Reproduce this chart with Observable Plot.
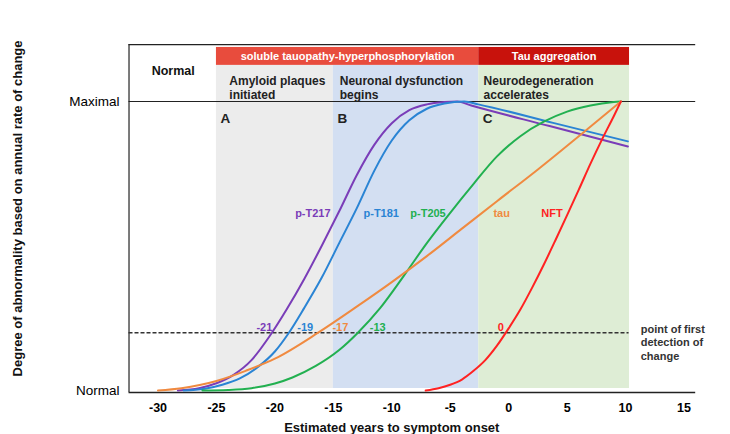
<!DOCTYPE html>
<html>
<head>
<meta charset="utf-8">
<script src="https://cdn.jsdelivr.net/npm/d3@7"></script>
<script src="https://cdn.jsdelivr.net/npm/@observablehq/plot@0.6"></script>
<style>
  html, body { margin: 0; padding: 0; background: #fff; }
  #chart svg { display: block; }
</style>
</head>
<body>
<div id="chart"></div>
<script>
// ---- data ----
const xTicks = [-30, -25, -20, -15, -10, -5, 0, 5, 10, 15];
const yTickLabels = ["Normal", "Maximal"];

const seriesNames = ["p-T217", "p-T181", "p-T205", "tau", "NFT"];
const seriesColors = ["#7a3db8", "#2a84d4", "#22b050", "#f08a40", "#ff2222"];

const pT217 = [[-28.3,0],[-26.5,0.008],[-25,0.025],[-23.5,0.055],[-22,0.105],[-20.5,0.185],[-19,0.28],[-17.5,0.385],[-16,0.5],[-14.5,0.62],[-13,0.745],[-11.5,0.85],[-10,0.925],[-8.5,0.97],[-7,0.99],[-5.5,0.998],[-4.4,1.0],[-3.2,0.986],[3.5,0.915],[10.2,0.844]];
const pT181 = [[-27.8,0],[-26,0.006],[-24.5,0.02],[-23,0.042],[-21.5,0.08],[-20,0.135],[-18.8,0.2],[-17.5,0.285],[-16,0.39],[-14.5,0.51],[-13,0.63],[-11.5,0.76],[-10,0.865],[-8.5,0.935],[-7,0.975],[-5.5,0.993],[-3.8,1.0],[-2.6,0.99],[3.8,0.926],[10.2,0.862]];
const pT205 = [[-26.2,0],[-24,0.002],[-22,0.008],[-20,0.024],[-18.5,0.045],[-16.5,0.085],[-14.5,0.14],[-12.9,0.2],[-11,0.285],[-9,0.395],[-7,0.51],[-5,0.615],[-3,0.715],[-1,0.81],[1,0.88],[3,0.93],[5,0.965],[7,0.986],[9,0.998],[9.6,1.0]];
const tau   = [[-30,0],[-28,0.008],[-25,0.033],[-22.5,0.068],[-20,0.11],[-16.3,0.2],[-13,0.29],[-10,0.375],[-7,0.465],[-4,0.56],[-1,0.655],[2.5,0.765],[6,0.88],[9.6,1.0]];
const nft   = [[-7.1,0],[-6,0.008],[-5,0.02],[-4,0.038],[-3,0.068],[-2,0.105],[-1,0.155],[0,0.215],[1,0.28],[2,0.355],[3,0.435],[4,0.52],[5,0.607],[6,0.695],[7,0.785],[8,0.87],[9,0.95],[9.6,1.0]];

const detectionYears = ["-21", "-19", "-17", "-13", "0"];
const detectionLevel = 0.2;

const phaseNames = ["Amyloid plaques\ninitiated", "Neuronal dysfunction\nbegins", "Neurodegeneration\naccelerates"];
const phaseLetters = ["A", "B", "C"];
const phaseStart = [-25, -15, -2.56];
const phaseEnd   = [-15, -2.56, 10.34];
const tauStages = ["soluble tauopathy-hyperphosphorylation", "Tau aggregation"];
const tauStageStart = [-25, -2.56];
const tauStageEnd = [-2.56, 10.34];

// ---- layout helpers (data units) ----
const font = "Liberation Sans, Arial, Helvetica, sans-serif";
const xLeft = -32.48, xRight = 16.0;
const yTop = 1.197, yBandTop = 1.125, yRedTop = 1.187, yBase = -0.007;

const series = [pT217, pT181, pT205, tau, nft];
const lineData = series.flatMap((s, i) => s.map(([x, y]) => ({x, y, name: seriesNames[i]})));

const phaseFills = ["#ececec", "#d3dff2", "#deedd5"];
const tauFills = ["#e84c3d", "#c8120c"];
const phaseTextX = [-23.9, -14.45, -2.15];
const phases = phaseNames.map((n, i) => ({name: n, letter: phaseLetters[i], x1: phaseStart[i], x2: phaseEnd[i], tx: phaseTextX[i], fill: phaseFills[i]}));
const stages = tauStages.map((n, i) => ({name: n, x1: tauStageStart[i], x2: tauStageEnd[i], fill: tauFills[i]}));

const curveLabelX = [-16.75, -10.9, -6.9, -0.6, 3.7];
const curveLabels = seriesNames.map((n, i) => ({name: n, x: curveLabelX[i], color: seriesColors[i]}));
const detLabelX = [-20.9, -17.4, -14.4, -11.2, -0.68];
const detLabels = detectionYears.map((t, i) => ({t, x: detLabelX[i], color: seriesColors[[0,1,3,2,4][i]]}));

const chart = Plot.plot({
  width: 730,
  height: 434,
  marginLeft: 128,
  marginRight: 35,
  marginTop: 44,
  marginBottom: 42,
  x: {domain: [-30, 15], range: [157.5, 683.5]},
  y: {domain: [0, 1], range: [390, 101]},
  color: {domain: seriesNames, range: seriesColors},
  style: {fontFamily: font, background: "#fff", overflow: "visible"},
  marks: [
    // phase background bands
    Plot.rect(phases, {x1: "x1", x2: "x2", y1: 0.007, y2: yBandTop, fill: "fill"}),
    // tau stage header bands
    Plot.rect(stages, {x1: "x1", x2: "x2", y1: yBandTop, y2: yRedTop, fill: "fill"}),
    Plot.text(stages, {x: d => (d.x1 + d.x2) / 2, y: (yBandTop + yRedTop) / 2, text: "name", fill: "#fff", fontSize: 11, fontWeight: "bold"}),
    // frame lines
    Plot.ruleY([yTop], {x1: xLeft, x2: xRight, stroke: "#222", strokeWidth: 1.2}),
    Plot.ruleY([1], {x1: xLeft, x2: xRight, stroke: "#222", strokeWidth: 1.2}),
    Plot.ruleY([yBase], {x1: xLeft, x2: xRight, stroke: "#222", strokeWidth: 1.6}),
    Plot.ruleX([xLeft], {y1: yBase, y2: yTop, stroke: "#222", strokeWidth: 1.2}),
    // detection threshold
    Plot.ruleY([detectionLevel], {x1: xLeft, x2: 10.3, stroke: "#333", strokeWidth: 1.4, strokeDasharray: "4,2"}),
    // curves
    Plot.line(lineData, {x: "x", y: "y", z: "name", stroke: "name", strokeWidth: 2, curve: "monotone-x"}),
    // header texts
    Plot.text(["Normal"], {x: -28.7, y: 1.107, fontSize: 12.5, fontWeight: 900, fill: "#111"}),
    Plot.text(phases, {x: "tx", y: 1.048, text: "name", textAnchor: "start", fontSize: 12, fontWeight: "bold", fill: "#222", lineHeight: 1.15}),
    Plot.text(phases, {x: d => d.x1 + 0.35, y: 0.941, text: "letter", textAnchor: "start", fontSize: 13.5, fontWeight: "bold", fill: "#222"}),
    // curve labels
    Plot.text(curveLabels, {x: "x", y: 0.612, text: "name", fill: "color", fontSize: 11, fontWeight: "bold"}),
    Plot.text(detLabels, {x: "x", y: 0.218, text: "t", fill: "color", fontSize: 11, fontWeight: "bold"}),
    Plot.text(["point of first\ndetection of\nchange"], {x: 11.3, y: 0.168, textAnchor: "start", fontSize: 11, fontWeight: "bold", fill: "#333", lineHeight: 1.25}),
    // axes
    Plot.axisX({ticks: xTicks, tickSize: 0, tickPadding: 11, fontSize: 12.5, fontWeight: "bold", label: null, tickFormat: d => String(d)}),
    Plot.axisY({ticks: [0, 1], tickSize: 0, tickPadding: 9, fontSize: 13.5, label: null, tickFormat: d => yTickLabels[d]}),
    Plot.text(["Estimated years to symptom onset"], {x: -10, y: -0.13, fontSize: 13, fontWeight: "bold", fill: "#111"}),
    Plot.text(["Degree of abnormality based on annual rate of change"], {x: -41.97, y: 0.63, rotate: -90, fontSize: 13, fontWeight: "bold", fill: "#111"})
  ]
});
document.getElementById("chart").appendChild(chart);
</script>
</body>
</html>
